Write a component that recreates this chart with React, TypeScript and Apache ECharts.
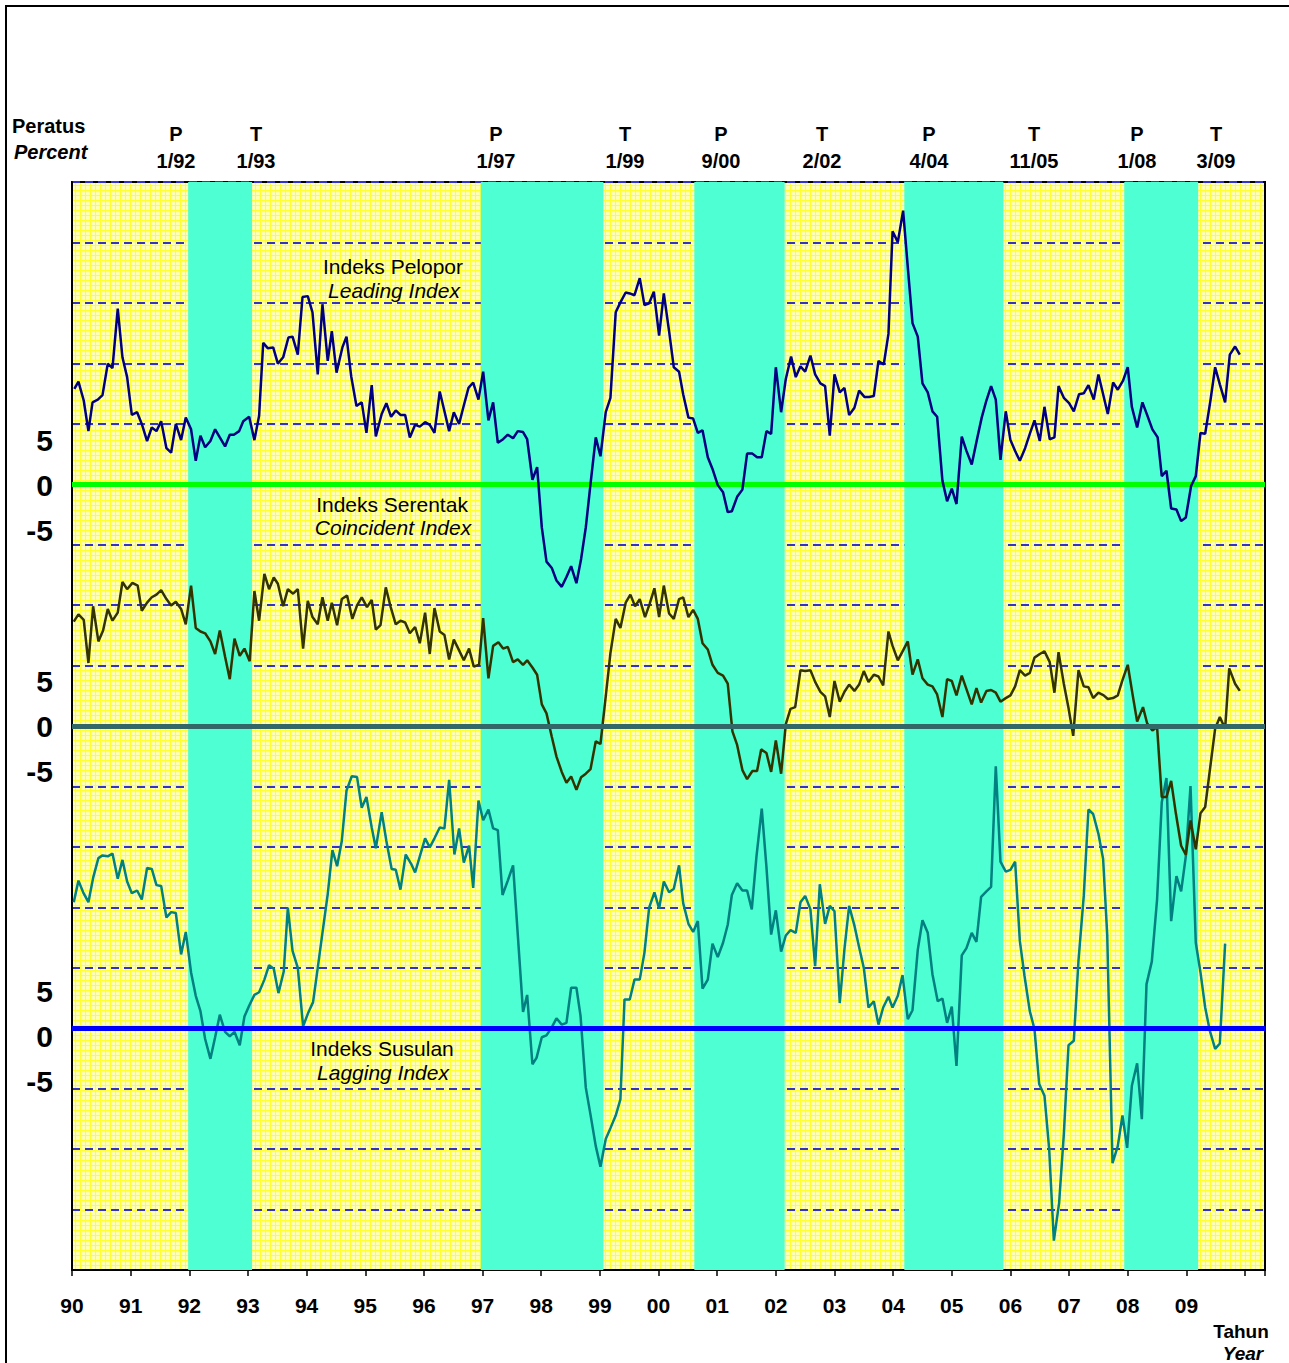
import React, { useEffect, useRef } from "react";
import * as echarts from "echarts";

// ---------- data (x = decimal year, y = percent) ----------
const YEAR_LABELS = ["90","91","92","93","94","95","96","97","98","99","00","01","02","03","04","05","06","07","08","09"];

const TURN_TYPES = ["P","T","P","T","P","T","P","T","P","T"];
const TURN_DATES = ["1/92","1/93","1/97","1/99","9/00","2/02","4/04","11/05","1/08","3/09"];

// recession bands (peak -> trough), decimal years
const BANDS: [number, number][] = [
  [1991.98, 1993.07], [1996.97, 1999.06], [2000.61, 2002.15], [2004.19, 2005.88], [2007.94, 2009.2],
];

const LEADING: [number, number][] = [
[1990.04,10.6],[1990.11,11.4],[1990.20,9.3],[1990.28,5.9],[1990.35,9.1],[1990.44,9.4],[1990.52,9.9],[1990.61,13.4],[1990.69,12.9],[1990.78,19.5],[1990.86,14.1],[1990.94,11.9],[1991.02,7.7],[1991.11,8.0],[1991.19,6.7],[1991.28,4.8],[1991.36,6.3],[1991.44,5.9],[1991.52,7.0],[1991.61,4.0],[1991.69,3.5],[1991.77,6.7],[1991.86,4.9],[1991.94,7.4],[1992.03,6.1],[1992.11,2.6],[1992.19,5.4],[1992.27,4.1],[1992.36,4.8],[1992.44,6.1],[1992.52,5.2],[1992.61,4.2],[1992.69,5.5],[1992.76,5.5],[1992.85,5.9],[1992.92,7.0],[1993.02,7.5],[1993.11,4.9],[1993.19,7.6],[1993.26,15.7],[1993.34,15.1],[1993.43,15.2],[1993.51,13.4],[1993.60,14.1],[1993.69,16.3],[1993.76,16.4],[1993.85,14.4],[1993.93,20.8],[1994.02,20.9],[1994.10,19.1],[1994.19,12.2],[1994.27,20.0],[1994.36,13.7],[1994.43,17.0],[1994.51,12.4],[1994.61,15.2],[1994.68,16.4],[1994.76,12.0],[1994.85,8.7],[1994.94,9.1],[1995.02,5.7],[1995.11,11.0],[1995.18,5.3],[1995.28,7.8],[1995.36,9.0],[1995.44,7.5],[1995.52,8.2],[1995.60,7.7],[1995.68,7.7],[1995.76,5.2],[1995.85,6.6],[1995.93,6.4],[1996.02,6.9],[1996.10,6.6],[1996.18,5.7],[1996.27,10.3],[1996.35,8.1],[1996.43,5.9],[1996.51,8.0],[1996.60,6.7],[1996.67,8.5],[1996.76,10.7],[1996.84,11.3],[1996.93,9.4],[1997.01,12.5],[1997.10,7.1],[1997.18,9.1],[1997.26,4.6],[1997.35,5.0],[1997.43,5.5],[1997.52,5.1],[1997.60,5.9],[1997.69,5.8],[1997.76,5.0],[1997.85,0.5],[1997.93,1.9],[1998.01,-4.8],[1998.09,-8.6],[1998.18,-9.3],[1998.26,-10.7],[1998.35,-11.4],[1998.43,-10.3],[1998.51,-9.1],[1998.60,-11.0],[1998.68,-8.3],[1998.76,-4.8],[1998.84,0.0],[1998.93,5.2],[1999.01,3.1],[1999.10,8.0],[1999.18,9.6],[1999.27,19.1],[1999.35,20.2],[1999.44,21.3],[1999.51,21.2],[1999.59,21.0],[1999.68,22.9],[1999.76,19.9],[1999.84,20.1],[1999.92,21.4],[2000.01,16.5],[2000.09,21.2],[2000.18,17.0],[2000.26,13.0],[2000.35,12.5],[2000.42,10.0],[2000.51,7.4],[2000.59,7.3],[2000.67,5.7],[2000.75,6.0],[2000.84,3.0],[2000.92,1.7],[2001.01,-0.1],[2001.10,-0.9],[2001.18,-3.1],[2001.25,-3.0],[2001.34,-1.4],[2001.43,-0.6],[2001.51,3.4],[2001.60,3.4],[2001.68,3.0],[2001.76,3.0],[2001.84,5.9],[2001.92,5.6],[2002.00,13.0],[2002.09,8.0],[2002.17,11.7],[2002.26,14.2],[2002.34,11.9],[2002.42,13.1],[2002.50,12.5],[2002.59,14.3],[2002.67,12.2],[2002.76,11.2],[2002.84,10.9],[2002.92,5.4],[2003.00,12.2],[2003.09,10.2],[2003.17,10.7],[2003.25,7.7],[2003.34,8.5],[2003.42,10.4],[2003.51,9.7],[2003.59,9.7],[2003.67,9.8],[2003.75,13.7],[2003.84,13.3],[2003.92,16.7],[2003.99,28.1],[2004.08,26.9],[2004.17,30.4],[2004.25,24.1],[2004.33,17.9],[2004.42,16.4],[2004.50,11.2],[2004.59,10.2],[2004.67,8.1],[2004.75,7.5],[2004.84,0.4],[2004.92,-1.9],[2005.00,-0.5],[2005.08,-2.2],[2005.17,5.3],[2005.25,3.7],[2005.34,2.2],[2005.43,5.0],[2005.51,7.4],[2005.59,9.3],[2005.67,10.9],[2005.75,9.4],[2005.83,2.7],[2005.92,8.1],[2006.00,4.9],[2006.08,3.7],[2006.16,2.6],[2006.25,4.0],[2006.33,5.6],[2006.41,7.1],[2006.50,4.8],[2006.58,8.6],[2006.67,5.0],[2006.75,5.2],[2006.82,10.9],[2006.91,9.6],[2007.00,9.0],[2007.08,8.1],[2007.17,10.0],[2007.25,10.1],[2007.33,11.0],[2007.42,9.4],[2007.50,12.2],[2007.58,10.0],[2007.66,7.8],[2007.75,11.3],[2007.83,10.5],[2007.92,11.5],[2008.00,13.0],[2008.07,8.6],[2008.16,6.3],[2008.25,9.1],[2008.33,7.7],[2008.42,6.1],[2008.51,5.2],[2008.58,0.9],[2008.66,1.5],[2008.74,-2.7],[2008.83,-2.8],[2008.91,-4.1],[2008.99,-3.7],[2009.08,-0.2],[2009.16,0.9],[2009.24,5.7],[2009.32,5.6],[2009.41,9.3],[2009.49,13.0],[2009.57,11.1],[2009.66,9.1],[2009.74,14.4],[2009.83,15.3],[2009.91,14.4]
];

const COINCIDENT: [number, number][] = [
[1990.03,11.6],[1990.11,12.4],[1990.20,11.8],[1990.28,7.0],[1990.36,13.3],[1990.45,9.4],[1990.53,10.6],[1990.61,13.0],[1990.69,11.7],[1990.78,12.6],[1990.86,16.0],[1990.94,15.2],[1991.03,15.9],[1991.12,15.6],[1991.19,12.8],[1991.28,13.7],[1991.36,14.3],[1991.44,14.6],[1991.52,15.1],[1991.61,14.1],[1991.69,13.4],[1991.77,13.8],[1991.86,13.0],[1991.94,11.3],[1992.03,15.6],[1992.11,10.9],[1992.19,10.5],[1992.27,10.3],[1992.36,9.4],[1992.44,8.0],[1992.52,10.6],[1992.61,7.7],[1992.69,5.2],[1992.77,9.7],[1992.86,7.8],[1992.94,8.6],[1993.03,7.2],[1993.11,15.0],[1993.19,11.7],[1993.28,16.9],[1993.36,15.2],[1993.44,16.5],[1993.51,15.8],[1993.60,13.3],[1993.68,15.2],[1993.77,14.7],[1993.85,15.2],[1993.94,8.6],[1994.02,13.9],[1994.10,12.1],[1994.19,11.3],[1994.27,14.3],[1994.36,11.7],[1994.43,13.7],[1994.52,11.2],[1994.60,14.1],[1994.69,14.5],[1994.78,11.9],[1994.86,13.4],[1994.94,14.3],[1995.03,13.2],[1995.11,14.0],[1995.18,10.7],[1995.26,11.2],[1995.35,15.4],[1995.43,13.3],[1995.52,11.3],[1995.60,11.7],[1995.68,11.5],[1995.76,10.3],[1995.85,11.0],[1995.93,9.2],[1996.02,12.6],[1996.10,8.0],[1996.18,13.1],[1996.27,10.5],[1996.35,10.1],[1996.43,7.4],[1996.51,9.6],[1996.60,8.4],[1996.68,7.3],[1996.77,8.6],[1996.85,6.6],[1996.94,6.8],[1997.01,12.0],[1997.10,5.3],[1997.18,8.9],[1997.27,9.3],[1997.35,8.6],[1997.43,8.8],[1997.52,7.1],[1997.60,7.4],[1997.69,6.8],[1997.76,7.3],[1997.85,6.5],[1997.93,5.7],[1998.01,2.4],[1998.09,1.4],[1998.18,-1.2],[1998.26,-3.4],[1998.35,-5.1],[1998.43,-6.3],[1998.51,-5.6],[1998.60,-7.1],[1998.68,-5.7],[1998.76,-5.3],[1998.84,-4.8],[1998.93,-1.7],[1999.01,-2.0],[1999.10,3.3],[1999.18,8.1],[1999.27,11.9],[1999.35,10.9],[1999.44,13.7],[1999.52,14.6],[1999.60,13.3],[1999.68,14.1],[1999.77,12.1],[1999.85,13.6],[1999.93,15.3],[2000.01,12.1],[2000.09,15.6],[2000.18,12.5],[2000.26,11.9],[2000.35,14.1],[2000.42,14.3],[2000.51,12.1],[2000.59,12.9],[2000.67,11.9],[2000.75,9.2],[2000.84,8.5],[2000.92,6.8],[2001.01,5.9],[2001.10,5.6],[2001.18,4.7],[2001.26,-0.6],[2001.34,-2.1],[2001.43,-4.9],[2001.51,-5.9],[2001.60,-5.0],[2001.68,-5.0],[2001.75,-2.6],[2001.84,-3.0],[2001.92,-5.1],[2002.00,-1.6],[2002.09,-5.3],[2002.17,0.2],[2002.25,1.9],[2002.33,2.1],[2002.42,6.2],[2002.50,6.1],[2002.59,6.2],[2002.67,4.9],[2002.76,3.8],[2002.84,3.3],[2002.92,1.0],[2003.00,5.0],[2003.09,2.7],[2003.17,3.8],[2003.25,4.6],[2003.34,3.9],[2003.42,4.6],[2003.50,6.1],[2003.58,4.9],[2003.67,5.7],[2003.75,5.5],[2003.83,4.5],[2003.92,10.5],[2003.99,8.9],[2004.08,7.3],[2004.17,8.4],[2004.25,9.4],[2004.33,5.7],[2004.42,7.4],[2004.50,5.3],[2004.59,4.6],[2004.67,4.4],[2004.75,3.5],[2004.84,1.0],[2004.92,5.2],[2005.00,5.0],[2005.08,3.4],[2005.17,5.6],[2005.25,4.1],[2005.34,2.4],[2005.42,4.2],[2005.50,2.6],[2005.59,3.9],[2005.67,4.0],[2005.75,3.7],[2005.83,2.7],[2005.92,3.1],[2006.00,3.4],[2006.08,4.4],[2006.16,6.2],[2006.25,5.6],[2006.33,5.9],[2006.41,7.6],[2006.50,8.0],[2006.58,8.3],[2006.67,7.1],[2006.75,3.7],[2006.82,8.2],[2006.91,4.7],[2006.99,2.0],[2007.07,-1.1],[2007.16,6.2],[2007.25,4.4],[2007.33,4.3],[2007.41,3.1],[2007.50,3.7],[2007.59,3.4],[2007.66,3.0],[2007.75,3.1],[2007.83,3.4],[2007.91,5.1],[2008.00,6.8],[2008.08,3.6],[2008.16,0.5],[2008.26,2.1],[2008.33,0.3],[2008.42,-0.5],[2008.50,-0.1],[2008.58,-7.9],[2008.66,-7.9],[2008.74,-6.1],[2008.82,-9.7],[2008.91,-13.3],[2008.99,-14.3],[2009.07,-10.5],[2009.16,-13.7],[2009.24,-9.7],[2009.32,-9.0],[2009.49,-0.3],[2009.57,1.0],[2009.66,-0.3],[2009.73,6.4],[2009.83,4.7],[2009.91,3.9]
];

const LAGGING: [number, number][] = [
[1990.03,14.0],[1990.11,16.4],[1990.19,15.1],[1990.28,14.0],[1990.36,16.7],[1990.45,18.9],[1990.52,19.2],[1990.61,19.1],[1990.69,19.4],[1990.78,16.6],[1990.86,18.7],[1990.94,16.3],[1991.02,15.0],[1991.11,15.3],[1991.19,14.3],[1991.28,17.8],[1991.36,17.7],[1991.44,15.9],[1991.52,15.8],[1991.61,12.3],[1991.69,12.9],[1991.77,12.8],[1991.86,8.2],[1991.94,10.7],[1992.03,6.2],[1992.11,3.6],[1992.19,1.9],[1992.27,-1.2],[1992.36,-3.4],[1992.44,-1.0],[1992.52,1.5],[1992.61,-0.4],[1992.69,-0.9],[1992.77,-0.4],[1992.86,-1.9],[1992.94,1.3],[1993.02,2.5],[1993.11,3.7],[1993.19,4.0],[1993.28,5.4],[1993.36,7.0],[1993.44,6.6],[1993.52,3.9],[1993.61,6.3],[1993.68,13.4],[1993.76,8.6],[1993.85,6.7],[1993.94,0.2],[1994.02,1.6],[1994.11,2.9],[1994.19,6.7],[1994.27,10.6],[1994.36,14.9],[1994.44,19.8],[1994.52,18.0],[1994.60,20.8],[1994.68,26.4],[1994.77,28.0],[1994.86,27.9],[1994.94,24.5],[1995.02,25.7],[1995.11,22.3],[1995.18,20.0],[1995.28,24.0],[1995.36,20.8],[1995.45,17.7],[1995.52,17.6],[1995.60,15.4],[1995.69,19.3],[1995.78,18.3],[1995.85,17.3],[1995.93,19.1],[1996.02,21.1],[1996.10,20.1],[1996.18,21.1],[1996.27,22.3],[1996.35,22.2],[1996.43,27.6],[1996.52,19.3],[1996.60,22.2],[1996.68,18.4],[1996.77,20.3],[1996.84,15.6],[1996.93,25.3],[1997.01,23.1],[1997.10,24.3],[1997.18,22.2],[1997.26,22.0],[1997.34,14.8],[1997.43,16.4],[1997.52,18.1],[1997.69,1.8],[1997.76,3.7],[1997.85,-4.0],[1997.92,-3.3],[1998.01,-1.0],[1998.09,-0.8],[1998.18,0.1],[1998.26,1.1],[1998.35,0.4],[1998.43,0.6],[1998.51,4.5],[1998.60,4.5],[1998.67,1.4],[1998.76,-6.6],[1998.84,-9.6],[1998.93,-13.1],[1999.01,-15.4],[1999.10,-12.3],[1999.18,-11.1],[1999.27,-9.7],[1999.35,-7.9],[1999.42,3.2],[1999.51,3.2],[1999.59,5.4],[1999.68,5.4],[1999.76,8.4],[1999.84,13.4],[1999.93,15.1],[2000.01,13.3],[2000.09,16.3],[2000.18,15.1],[2000.26,15.5],[2000.35,18.1],[2000.42,13.9],[2000.51,11.6],[2000.59,10.7],[2000.67,11.9],[2000.75,4.4],[2000.84,5.4],[2000.92,9.4],[2001.01,7.9],[2001.10,9.5],[2001.18,11.5],[2001.25,14.8],[2001.34,16.1],[2001.43,15.3],[2001.51,15.3],[2001.59,13.2],[2001.67,19.1],[2001.76,24.4],[2001.84,17.9],[2001.92,10.4],[2002.00,13.1],[2002.09,8.5],[2002.17,10.3],[2002.25,10.9],[2002.34,10.6],[2002.42,14.0],[2002.50,14.7],[2002.59,13.2],[2002.67,6.9],[2002.75,16.0],[2002.84,11.6],[2002.92,13.6],[2003.00,13.0],[2003.09,2.8],[2003.17,8.8],[2003.25,13.6],[2003.34,11.4],[2003.42,9.0],[2003.50,6.7],[2003.58,2.3],[2003.67,3.0],[2003.75,0.4],[2003.83,2.3],[2003.92,3.5],[2003.99,2.3],[2004.08,3.6],[2004.16,5.9],[2004.25,1.0],[2004.33,2.0],[2004.42,8.7],[2004.50,12.0],[2004.59,10.6],[2004.67,6.0],[2004.76,3.0],[2004.84,3.3],[2004.92,0.6],[2005.00,2.4],[2005.08,-4.2],[2005.17,8.1],[2005.25,8.9],[2005.34,10.6],[2005.42,9.6],[2005.50,14.6],[2005.59,15.2],[2005.67,15.7],[2005.75,29.1],[2005.83,18.5],[2005.92,17.4],[2006.00,17.6],[2006.08,18.5],[2006.16,9.7],[2006.24,5.8],[2006.33,1.9],[2006.41,-0.1],[2006.49,-6.2],[2006.58,-7.5],[2006.66,-13.4],[2006.74,-23.6],[2006.83,-19.4],[2006.91,-11.8],[2006.99,-1.9],[2007.08,-1.4],[2007.16,7.5],[2007.25,14.7],[2007.33,24.3],[2007.41,23.8],[2007.50,21.6],[2007.58,18.8],[2007.65,10.4],[2007.74,-15.0],[2007.83,-13.1],[2007.91,-9.7],[2007.99,-13.3],[2008.07,-6.4],[2008.16,-3.9],[2008.24,-10.1],[2008.32,4.9],[2008.41,7.4],[2008.50,14.3],[2008.58,25.1],[2008.66,27.8],[2008.74,11.9],[2008.83,16.9],[2008.91,15.2],[2008.99,19.1],[2009.07,26.9],[2009.16,9.5],[2009.24,6.2],[2009.32,2.3],[2009.40,-0.3],[2009.49,-2.3],[2009.57,-1.7],[2009.66,9.4]
];

// ---------- layout / style ----------
const FONT = '"Liberation Sans", Arial, sans-serif';
const PCT_PER_GRID = 60.44 / 9; // percent represented by one dashed grid step
const ZERO_LEAD = 13;
const ZERO_COIN = 9;
const ZERO_LAG = 4;
const TURN_X = [176, 256, 496, 625, 721, 822, 929, 1034, 1137, 1216];

const toGrid = (arr: [number, number][], zero: number) =>
  arr.map(([x, p]) => [x, zero + p / PCT_PER_GRID]);

function makePattern(): any {
  try {
    const c = document.createElement("canvas");
    c.width = 5;
    c.height = 5;
    const ctx = c.getContext("2d");
    if (!ctx) return "#FFFF78";
    ctx.fillStyle = "#FFFFB4";
    ctx.fillRect(0, 0, 5, 5);
    ctx.fillStyle = "#FFFF30";
    ctx.fillRect(0, 0, 5, 1);
    ctx.fillRect(0, 0, 1, 5);
    return { image: c, repeat: "repeat" };
  } catch (e) {
    return "#FFFF78";
  }
}

function txt(text: string, x: number, y: number, font: string, align = "center") {
  return {
    type: "text",
    x,
    y,
    silent: true,
    z: 100,
    style: {
      text,
      fill: "#000",
      font,
      align,
      verticalAlign: "middle",
      textAlign: align,
      textVerticalAlign: "middle",
    },
  };
}

export default function App() {
  const ref = useRef<HTMLDivElement>(null);

  useEffect(() => {
    if (!ref.current) return;
    const chart = echarts.init(ref.current, undefined, { renderer: "svg" });

    const bold20 = `bold 20px ${FONT}`;
    const label = `21px ${FONT}`;
    const italic = `italic 21px ${FONT}`;
    const graphics: any[] = [
      {
        type: "rect",
        shape: { x: 6, y: 6, width: 1300, height: 1380 },
        style: { fill: "none", stroke: "#000", lineWidth: 2 },
        silent: true,
        z: 100,
      },
      txt("Peratus", 12, 126, bold20, "left"),
      txt("Percent", 14, 152, `italic bold 20px ${FONT}`, "left"),
      txt("Tahun", 1241, 1331, `bold 19px ${FONT}`),
      txt("Year", 1243, 1353, `italic bold 19px ${FONT}`),
      txt("Indeks Pelopor", 393, 266, label),
      txt("Leading Index", 394, 290, italic),
      txt("Indeks Serentak", 392, 504, label),
      txt("Coincident Index", 393, 527, italic),
      txt("Indeks Susulan", 382, 1048, label),
      txt("Lagging Index", 383, 1072, italic),
    ];
    TURN_TYPES.forEach((t, i) => {
      graphics.push(txt(t, TURN_X[i], 134, bold20));
      graphics.push(txt(TURN_DATES[i], TURN_X[i], 161, bold20));
    });
    const yLab = `bold 30px ${FONT}`;
    [[440, 485, 530], [681, 726, 771], [991, 1036, 1081]].forEach((ys) => {
      graphics.push(txt("5", 53, ys[0], yLab, "right"));
      graphics.push(txt("0", 53, ys[1], yLab, "right"));
      graphics.push(txt("-5", 53, ys[2], yLab, "right"));
    });

    chart.setOption({
      animation: false,
      backgroundColor: "#fff",
      grid: {
        left: 72,
        top: 182,
        width: 1193,
        height: 1088,
        show: true,
        backgroundColor: makePattern(),
        borderColor: "#000",
        borderWidth: 2,
      },
      xAxis: {
        type: "value",
        min: 1990,
        max: 2010.34,
        interval: 1,
        axisLine: { show: true, onZero: false, lineStyle: { color: "#000", width: 2 } },
        axisTick: { show: true, length: 6, lineStyle: { color: "#000", width: 1.5 } },
        axisLabel: {
          margin: 25,
          color: "#000",
          fontWeight: "bold",
          fontSize: 21,
          fontFamily: FONT,
          formatter: (v: number) => YEAR_LABELS[Math.round(v - 1990)] ?? "",
        },
        splitLine: { show: false },
      },
      yAxis: {
        type: "value",
        min: 0,
        max: 18,
        interval: 1,
        axisLine: { show: true, lineStyle: { color: "#000", width: 2 } },
        axisTick: { show: false },
        axisLabel: { show: false },
        splitLine: {
          show: true,
          lineStyle: { color: "#3333CC", width: 2, type: [8, 5] },
        },
      },
      graphic: graphics,
      series: [
        {
          type: "line",
          name: "bands",
          data: [],
          z: 1,
          silent: true,
          markArea: {
            silent: true,
            itemStyle: { color: "#4DFFD2", opacity: 1 },
            data: BANDS.map(([a, b]) => [{ xAxis: a }, { xAxis: b }]),
          },
        },
        {
          type: "line",
          name: "zero",
          data: [],
          z: 2,
          silent: true,
          markLine: {
            silent: true,
            symbol: "none",
            label: { show: false },
            data: [
              { yAxis: ZERO_LEAD, lineStyle: { color: "#00FF00", width: 5, type: "solid" } },
              { yAxis: ZERO_COIN, lineStyle: { color: "#336666", width: 5, type: "solid" } },
              { yAxis: ZERO_LAG, lineStyle: { color: "#0000FF", width: 5, type: "solid" } },
            ],
          },
        },
        {
          type: "line",
          name: "Lagging",
          data: toGrid(LAGGING, ZERO_LAG),
          z: 3,
          symbol: "none",
          lineStyle: { color: "#008080", width: 2.5 },
        },
        {
          type: "line",
          name: "Coincident",
          data: toGrid(COINCIDENT, ZERO_COIN),
          z: 4,
          symbol: "none",
          lineStyle: { color: "#333300", width: 2.5 },
        },
        {
          type: "line",
          name: "Leading",
          data: toGrid(LEADING, ZERO_LEAD),
          z: 5,
          symbol: "none",
          lineStyle: { color: "#000080", width: 2.5 },
        },
      ],
    });

    return () => chart.dispose();
  }, []);

  return (
    <div
      ref={ref}
      style={{ position: "absolute", left: 0, top: 0, width: 1289, height: 1363 }}
    />
  );
}
